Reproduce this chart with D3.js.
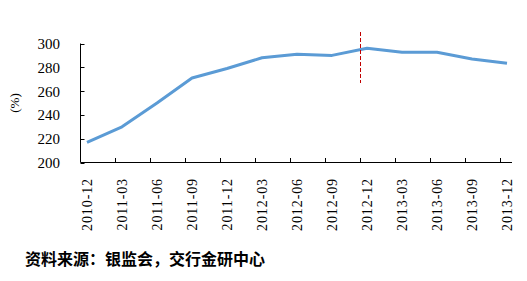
<!DOCTYPE html>
<html><head><meta charset="utf-8">
<script src="https://cdn.jsdelivr.net/npm/d3@7"></script>
<style>body{margin:0;background:#fff}svg{display:block}</style>
</head><body>
<script>
const categories = ["2010-12","2011-03","2011-06","2011-09","2011-12","2012-03","2012-06","2012-09","2012-12","2013-03","2013-06","2013-09","2013-12"];
const values = [217, 230, 250, 271, 279, 288, 291, 290, 296, 292.6, 292.6, 287, 283.4];
const yTicks = [200, 220, 240, 260, 280, 300];
const markerCategory = "2012-12";
const yLabel = "(%)";
const source = "资料来源：银监会，交行金研中心";

const W = 527, H = 281;
const svg = d3.select("body").append("svg").attr("width", W).attr("height", H);

const x = d3.scalePoint().domain(categories).range([87, 507]);
const step = x.step();
const y = d3.scaleLinear().domain([200, 300]).range([162.5, 43.5]);
const axisLeft = 80.5, axisRight = 512;

// y axis
svg.append("line").attr("x1", axisLeft).attr("x2", axisLeft).attr("y1", y(300)).attr("y2", y(200)).attr("stroke", "#000");
svg.selectAll(".yt").data(yTicks).enter().append("line")
  .attr("x1", axisLeft).attr("x2", axisLeft + 4)
  .attr("y1", d => Math.round(y(d)) + 0.5).attr("y2", d => Math.round(y(d)) + 0.5).attr("stroke", "#000");
svg.selectAll(".yl").data(yTicks).enter().append("text")
  .attr("x", 60).attr("y", d => y(d)).attr("dy", "0.36em")
  .attr("text-anchor", "end").attr("font-family", "Liberation Serif, serif").attr("font-size", 15)
  .text(d => d);
svg.append("text").attr("transform", `translate(19,${103}) rotate(-90)`)
  .attr("text-anchor", "middle").attr("font-family", "Liberation Serif, serif").attr("font-size", 13).text(yLabel);

// x axis
svg.append("line").attr("x1", axisLeft).attr("x2", axisRight).attr("y1", 162.5).attr("y2", 162.5).attr("stroke", "#000");
svg.selectAll(".xt").data(categories.slice(0, -1)).enter().append("line")
  .attr("x1", d => Math.round(x(d) + step * 0.8) + 0.5).attr("x2", d => Math.round(x(d) + step * 0.8) + 0.5)
  .attr("y1", 162.5).attr("y2", 158).attr("stroke", "#000");
svg.selectAll(".xl").data(categories).enter().append("text")
  .attr("transform", d => `translate(${x(d)},178) rotate(-90)`)
  .attr("text-anchor", "end").attr("dy", "0.36em")
  .attr("font-family", "Liberation Serif, serif").attr("font-size", 14).attr("letter-spacing", 0.9)
  .text(d => d);

// line
const line = d3.line().x((d, i) => x(categories[i])).y(d => y(d));
svg.append("path").datum(values).attr("d", line)
  .attr("fill", "none").attr("stroke", "#5B9BD5").attr("stroke-width", 3).attr("stroke-linejoin", "round");

// marker dashed line
const mx = Math.round(x(markerCategory) - step * 0.2) + 0.5;
svg.append("line").attr("x1", mx).attr("x2", mx).attr("y1", 32).attr("y2", 83)
  .attr("stroke", "#C00000").attr("stroke-width", 1).attr("stroke-dasharray", "4,2");

// source
svg.append("text").attr("x", 25).attr("y", 265)
  .attr("font-family", "Noto Sans CJK SC, sans-serif").attr("font-weight", "bold").attr("font-size", 16)
  .text(source);
</script>
</body></html>
